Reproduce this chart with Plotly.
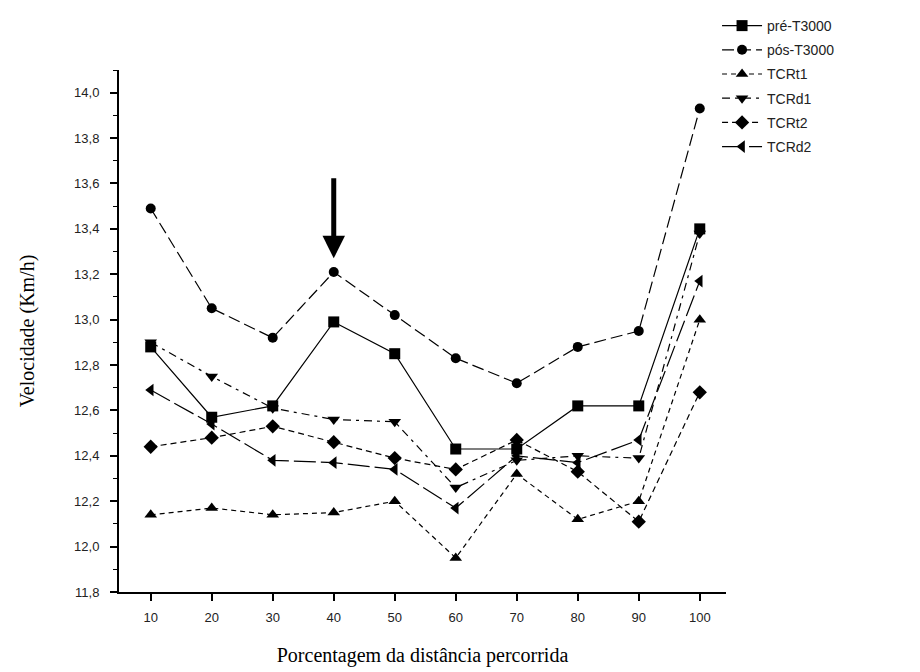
import plotly.graph_objects as go

# ---- data ----
pct = [10, 20, 30, 40, 50, 60, 70, 80, 90, 100]
pre_t3000 = [12.88, 12.57, 12.62, 12.99, 12.85, 12.43, 12.43, 12.62, 12.62, 13.40]
pos_t3000 = [13.49, 13.05, 12.92, 13.21, 13.02, 12.83, 12.72, 12.88, 12.95, 13.93]
tcr_t1 = [12.14, 12.17, 12.14, 12.15, 12.20, 11.95, 12.32, 12.12, 12.20, 13.00]
tcr_d1 = [12.90, 12.75, 12.61, 12.56, 12.55, 12.26, 12.38, 12.40, 12.39, 13.38]
tcr_t2 = [12.44, 12.48, 12.53, 12.46, 12.39, 12.34, 12.47, 12.33, 12.11, 12.68]
tcr_d2 = [12.69, 12.54, 12.38, 12.37, 12.34, 12.17, 12.40, 12.37, 12.47, 13.17]

series_names = ["pré-T3000", "pós-T3000", "TCRt1", "TCRd1", "TCRt2", "TCRd2"]
series_values = [pre_t3000, pos_t3000, tcr_t1, tcr_d1, tcr_t2, tcr_d2]
symbols = ["square", "circle", "triangle-up", "triangle-down", "diamond", "triangle-left"]
dashes = ["solid", "12px,5px", "5px,4px", "8px,5px,3px,5px", "6px,4px", "22px,5px"]
sizes = [11, 10, 11, 11, 11, 11]

x_title = "Porcentagem da distância percorrida"
y_title = "Velocidade (Km/h)"

fig = go.Figure()
for i, (name, vals) in enumerate(zip(series_names, series_values)):
    fig.add_trace(go.Scatter(
        x=pct, y=vals, name=name, mode="lines+markers",
        line=dict(color="black", width=1.2, dash=dashes[i]),
        marker=dict(symbol=symbols[i], size=sizes[i], color="black"),
        legendgroup=f"g{i}",
    ))

# arrow at 40 %
fig.add_annotation(
    x=40, y=13.27, ax=40, ay=13.63, xref="x", yref="y", axref="x", ayref="y",
    showarrow=True, arrowhead=2, arrowsize=0.9, arrowwidth=5, arrowcolor="black",
    text="", standoff=0,
)

tick_font = dict(family="Liberation Sans, Arial, sans-serif", size=13, color="#222")
title_font = dict(family="Liberation Serif, Times New Roman, serif", size=20, color="black")

fig.update_layout(
    width=920, height=672,
    margin=dict(l=111, r=202, t=62, b=88, autoexpand=False),
    paper_bgcolor="white", plot_bgcolor="white",
    separators=",.",
    showlegend=True,
    legend=dict(
        xref="container", yref="container",
        x=0.7707, y=0.997, xanchor="left", yanchor="top",
        font=dict(family="Liberation Sans, Arial, sans-serif", size=14, color="#222"),
        bgcolor="rgba(0,0,0,0)", tracegroupgap=3, itemwidth=40,
    ),
    xaxis=dict(
        range=[4.8, 104.3], tickvals=pct, ticks="outside", ticklen=7, tickwidth=1.5,
        tickcolor="black", showline=True, linecolor="black", linewidth=2,
        showgrid=False, zeroline=False, tickfont=tick_font, ticklabelstandoff=5,
        title=dict(text=x_title, font=title_font, standoff=24),
    ),
    yaxis=dict(
        range=[11.8, 14.1], tick0=11.8, dtick=0.2, tickformat=".1f",
        ticks="outside", ticklen=7, tickwidth=1.5, tickcolor="black",
        minor=dict(dtick=0.1, ticks="outside", ticklen=4, tickcolor="black", tickwidth=1.2),
        showline=True, linecolor="black", linewidth=2,
        showgrid=False, zeroline=False, tickfont=tick_font, ticklabelstandoff=8,
        title=dict(text=y_title, font=title_font, standoff=34),
    ),
)

fig.write_html("out.html")
